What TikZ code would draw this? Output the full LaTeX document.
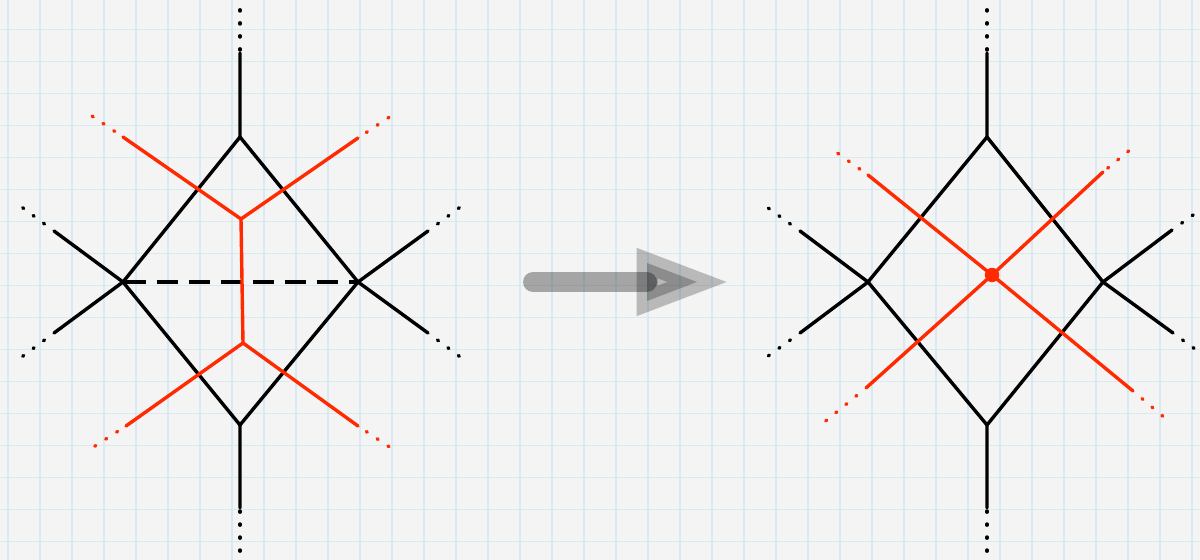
\documentclass[tikz,border=0pt]{standalone}
\usepackage{tikz}
\definecolor{paper}{RGB}{244,244,244}
\definecolor{gridblue}{RGB}{217,233,241}
\definecolor{vorred}{RGB}{255,42,0}

\begin{document}
\begin{tikzpicture}[x=.5pt,y=-.5pt,
  gridline/.style={gridblue,line width=.8pt},
  edge/.style={black,line width=1.7pt,line cap=round},
  vor/.style={vorred,line width=1.7pt,line cap=round},
  tail/.style={line width=1.7pt,dash pattern=on .6pt off 5.9pt,dash phase=#1,line cap=round},
  tail/.default=.6pt,
  flip/.style={black,line width=10pt,line cap=round,draw opacity=.32},
  head/.style={draw=black,fill=black,line width=10.5pt,miter limit=10,draw opacity=.24,fill opacity=.24}]
\useasboundingbox (0,0) rectangle (1200,560);
\fill[paper] (0,0) rectangle (1200,560);
% graph paper
\foreach \i in {0,...,37} \draw[gridline] (8+32*\i,0) -- (8+32*\i,560);
\foreach \j in {0,...,17} \draw[gridline] (0,-2.5+32*\j) -- (1200,-2.5+32*\j);

% left: before the flip
\coordinate (lT) at (240,137); \coordinate (lL) at (123,282);
\coordinate (lR) at (358,282); \coordinate (lB) at (240,425);
\coordinate (lTo) at (240,53);  \coordinate (lTe) at (240,6);
\coordinate (lBo) at (240,508); \coordinate (lBe) at (240,555);
\coordinate (lLa) at (54,231);  \coordinate (lLae) at (19,205);
\coordinate (lLb) at (54,333);  \coordinate (lLbe) at (19,359);
\coordinate (lRa) at (428,231); \coordinate (lRae) at (463,205);
\coordinate (lRb) at (428,333); \coordinate (lRbe) at (463,359);
\draw[edge] (lT)--(lL) (lL)--(lB) (lB)--(lR) (lR)--(lT);
\draw[edge] (lT)--(lTo) (lB)--(lBo) (lL)--(lLa) (lL)--(lLb) (lR)--(lRa) (lR)--(lRb);
\draw[tail=5pt] (lTo)--(lTe); \draw[tail=5pt] (lBo)--(lBe);
\draw[tail] (lLa)--(lLae); \draw[tail] (lLb)--(lLbe);
\draw[tail] (lRa)--(lRae); \draw[tail] (lRb)--(lRbe);
\draw[edge,line cap=butt,dash pattern=on 10.5pt off 5.5pt,dash phase=-1pt] (lL)--(lR);
% left dual
\coordinate (lU) at (241,219); \coordinate (lD) at (243,343);
\coordinate (lUa) at (123,137); \coordinate (lUae) at (92,116);
\coordinate (lUb) at (358,138); \coordinate (lUbe) at (391,116);
\coordinate (lDa) at (126,426); \coordinate (lDae) at (92,448);
\coordinate (lDb) at (358,426); \coordinate (lDbe) at (391,448);
\draw[vor] (lU)--(lD);
\draw[vor] (lU)--(lUa) (lU)--(lUb) (lD)--(lDa) (lD)--(lDb);
\draw[tail=1.5pt,vorred] (lUa)--(lUae); \draw[tail=1.5pt,vorred] (lUb)--(lUbe);
\draw[tail=1.5pt,vorred] (lDa)--(lDae); \draw[tail=1.5pt,vorred] (lDb)--(lDbe);

% arrow
\coordinate (ash) at (533,282); \coordinate (aen) at (647,282);
\draw[flip] (ash)--(aen);
\path[head] (647,263)--(697,282)--(647,301)--cycle;

% right: after the flip
\coordinate (rT) at (987,137); \coordinate (rL) at (868,282);
\coordinate (rR) at (1103,282); \coordinate (rB) at (987,425);
\coordinate (rTo) at (987,53);  \coordinate (rTe) at (987,6);
\coordinate (rBo) at (987,508); \coordinate (rBe) at (987,555);
\coordinate (rLa) at (800,231); \coordinate (rLae) at (764,205);
\coordinate (rLb) at (800,333); \coordinate (rLbe) at (764,359);
\coordinate (rRa) at (1172,230); \coordinate (rRae) at (1210,203);
\coordinate (rRb) at (1173,333); \coordinate (rRbe) at (1210,360);
\draw[edge] (rT)--(rL) (rL)--(rB) (rB)--(rR) (rR)--(rT);
\draw[edge] (rT)--(rTo) (rB)--(rBo) (rL)--(rLa) (rL)--(rLb) (rR)--(rRa) (rR)--(rRb);
\draw[tail=5pt] (rTo)--(rTe); \draw[tail=5pt] (rBo)--(rBe);
\draw[tail] (rLa)--(rLae); \draw[tail] (rLb)--(rLbe);
\draw[tail] (rRa)--(rRae); \draw[tail] (rRb)--(rRbe);
% right dual
\coordinate (rC) at (992,275);
\coordinate (rCa) at (868,175);  \coordinate (rCae) at (836,152);
\coordinate (rCb) at (1103,172); \coordinate (rCbe) at (1131,149);
\coordinate (rCc) at (866,388);  \coordinate (rCce) at (822,424);
\coordinate (rCd) at (1133,391); \coordinate (rCde) at (1166,419);
\draw[vor] (rC)--(rCa) (rC)--(rCb) (rC)--(rCc) (rC)--(rCd);
\draw[tail=1.5pt,vorred] (rCa)--(rCae); \draw[tail=3.5pt,vorred] (rCb)--(rCbe);
\draw[tail,vorred] (rCc)--(rCce); \draw[tail,vorred] (rCd)--(rCde);
\fill[vorred] (rC) circle[radius=3.6pt];
\end{tikzpicture}
\end{document}
